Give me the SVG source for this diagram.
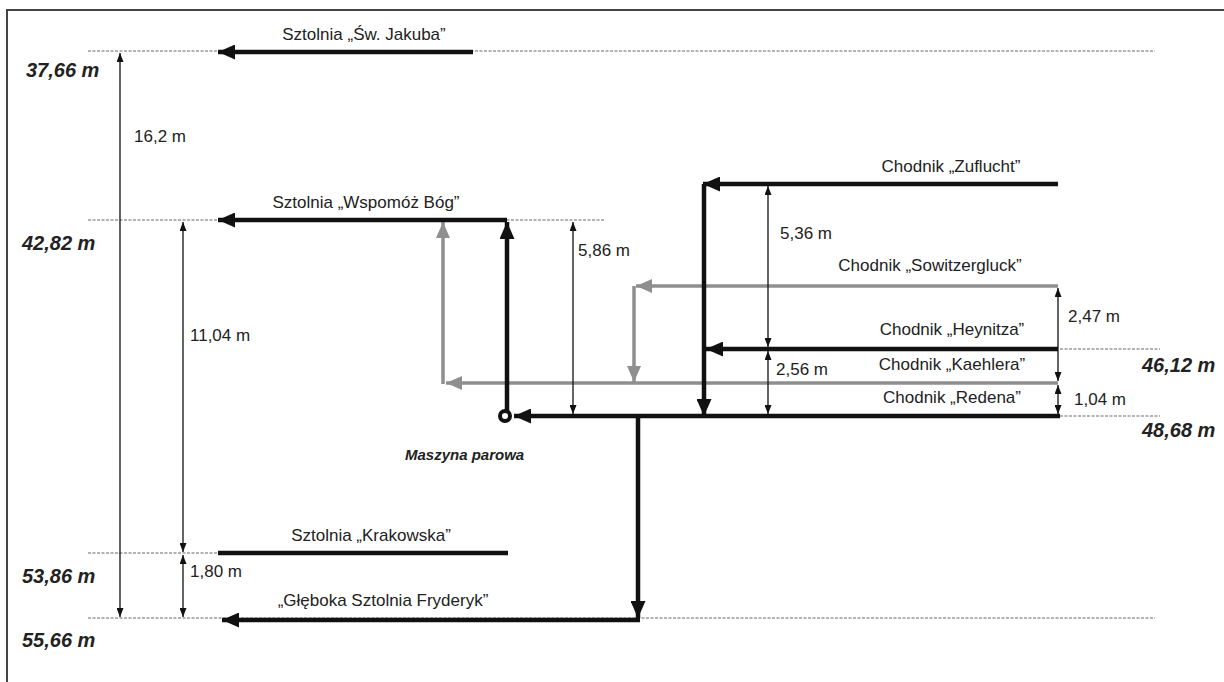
<svg xmlns="http://www.w3.org/2000/svg" width="1224" height="682" viewBox="0 0 1224 682">
<style>
text{font-family:"Liberation Sans",Arial,sans-serif;fill:#222}
.lbl{font-size:17px}
.lbl.c{text-anchor:middle}
.lvl{font-size:20px;font-weight:bold;font-style:italic}
.mp{font-size:15px;font-weight:bold;font-style:italic}
.ref{stroke:#9a9a9a;stroke-width:1.6;stroke-dasharray:3 1.5;fill:none}
.blk{stroke:#111;stroke-width:4.5;fill:none}
.gry{stroke:#8f8f8f;stroke-width:3.5;fill:none}
.dim{stroke:#111;stroke-width:1.3;fill:none;marker-start:url(#ds);marker-end:url(#de)}
</style>
<defs>
<marker id="ab" viewBox="0 0 17 15" refX="17" refY="7.5" markerWidth="17" markerHeight="15" markerUnits="userSpaceOnUse" orient="auto"><path d="M0,0 L17,7.5 L0,15 z" fill="#111"/></marker>
<marker id="ag" viewBox="0 0 16 14" refX="16" refY="7" markerWidth="16" markerHeight="14" markerUnits="userSpaceOnUse" orient="auto"><path d="M0,0 L16,7 L0,14 z" fill="#8f8f8f"/></marker>
<marker id="de" viewBox="0 0 9 7" refX="9" refY="3.5" markerWidth="9" markerHeight="7" markerUnits="userSpaceOnUse" orient="auto"><path d="M0,0 L9,3.5 L0,7 z" fill="#111"/></marker>
<marker id="ds" viewBox="0 0 9 7" refX="0" refY="3.5" markerWidth="9" markerHeight="7" markerUnits="userSpaceOnUse" orient="auto"><path d="M9,0 L0,3.5 L9,7 z" fill="#111"/></marker>
</defs>
<rect width="1224" height="682" fill="#fff"/>
<path d="M7,682 L7,10 L1224,10" stroke="#444" stroke-width="2" fill="none"/>

<g id="reference-lines">
<line class="ref" x1="88" y1="51" x2="1155" y2="51"/>
<line class="ref" x1="88" y1="220" x2="605" y2="220"/>
<line class="ref" x1="1060" y1="349" x2="1160" y2="349"/>
<line class="ref" x1="1060" y1="416" x2="1160" y2="416"/>
<line class="ref" x1="88" y1="553" x2="218" y2="553"/>
<line class="ref" x1="88" y1="618" x2="1155" y2="618"/>
</g>

<g id="connectors">
<path class="gry" d="M1058,286 L636,286" marker-end="url(#ag)"/>
<path class="gry" d="M634,286 L634,382" marker-end="url(#ag)"/>
<path class="gry" d="M1058,383 L446,383" marker-end="url(#ag)"/>
<path class="gry" d="M443,384 L443,222" marker-end="url(#ag)"/>
<path class="blk" d="M473,52 L218,52" marker-end="url(#ab)"/>
<path class="blk" d="M507,220 L218,220" marker-end="url(#ab)"/>
<path class="blk" d="M507,411 L507,222" marker-end="url(#ab)"/>
<path class="blk" d="M1058,184 L703,184" marker-end="url(#ab)"/>
<path class="blk" d="M704,184 L704,416" marker-end="url(#ab)"/>
<path class="blk" d="M1058,349 L706,349" marker-end="url(#ab)"/>
<path class="blk" d="M1060,416 L514,416" marker-end="url(#ab)"/>
<path class="blk" d="M638,416 L638,618" marker-end="url(#ab)"/>
<path class="blk" d="M640,620 L222,620" marker-end="url(#ab)"/>
<path class="blk" d="M218,553 L508,553"/>
</g>

<g id="dimensions">
<line class="dim" x1="120" y1="53" x2="120" y2="617"/>
<line class="dim" x1="183" y1="222" x2="183" y2="552"/>
<line class="dim" x1="183" y1="555" x2="183" y2="617"/>
<line class="dim" x1="573" y1="222" x2="573" y2="414"/>
<line class="dim" x1="768" y1="186" x2="768" y2="347"/>
<line class="dim" x1="768" y1="351" x2="768" y2="414"/>
<line class="dim" x1="1058" y1="288" x2="1058" y2="381"/>
<line class="dim" x1="1058" y1="385" x2="1058" y2="414"/>
</g>

<g id="maszyna-parowa">
<circle cx="505" cy="416" r="5" fill="#fff" stroke="#111" stroke-width="4"/>
<text class="mp" x="405" y="460">Maszyna parowa</text>
</g>

<g id="sztolnia-sw-jakuba"><text class="lbl c" x="364" y="40">Sztolnia „Św. Jakuba”</text></g>
<g id="sztolnia-wspomoz-bog"><text class="lbl c" x="366" y="208">Sztolnia „Wspomóż Bóg”</text></g>
<g id="chodnik-zuflucht"><text class="lbl c" x="951" y="172">Chodnik „Zuflucht”</text></g>
<g id="chodnik-sowitzergluck"><text class="lbl c" x="930" y="271">Chodnik „Sowitzergluck”</text></g>
<g id="chodnik-heynitza"><text class="lbl c" x="952" y="335">Chodnik „Heynitza”</text></g>
<g id="chodnik-kaehlera"><text class="lbl c" x="952" y="370">Chodnik „Kaehlera”</text></g>
<g id="chodnik-redena"><text class="lbl c" x="952" y="403">Chodnik „Redena”</text></g>
<g id="sztolnia-krakowska"><text class="lbl c" x="371" y="541">Sztolnia „Krakowska”</text></g>
<g id="gleboka-sztolnia-fryderyk"><text class="lbl c" x="383" y="606">„Głęboka Sztolnia Fryderyk”</text></g>

<g id="levels">
<text class="lvl" x="26" y="77">37,66 m</text>
<text class="lvl" x="22" y="250">42,82 m</text>
<text class="lvl" x="1142" y="372">46,12 m</text>
<text class="lvl" x="1142" y="437">48,68 m</text>
<text class="lvl" x="22" y="583">53,86 m</text>
<text class="lvl" x="22" y="647">55,66 m</text>
</g>

<g id="dimension-labels">
<text class="lbl" x="134" y="142">16,2 m</text>
<text class="lbl" x="190" y="341">11,04 m</text>
<text class="lbl" x="578" y="256">5,86 m</text>
<text class="lbl" x="780" y="239">5,36 m</text>
<text class="lbl" x="1068" y="322">2,47 m</text>
<text class="lbl" x="776" y="375">2,56 m</text>
<text class="lbl" x="1074" y="405">1,04 m</text>
<text class="lbl" x="190" y="577">1,80 m</text>
</g>
</svg>
